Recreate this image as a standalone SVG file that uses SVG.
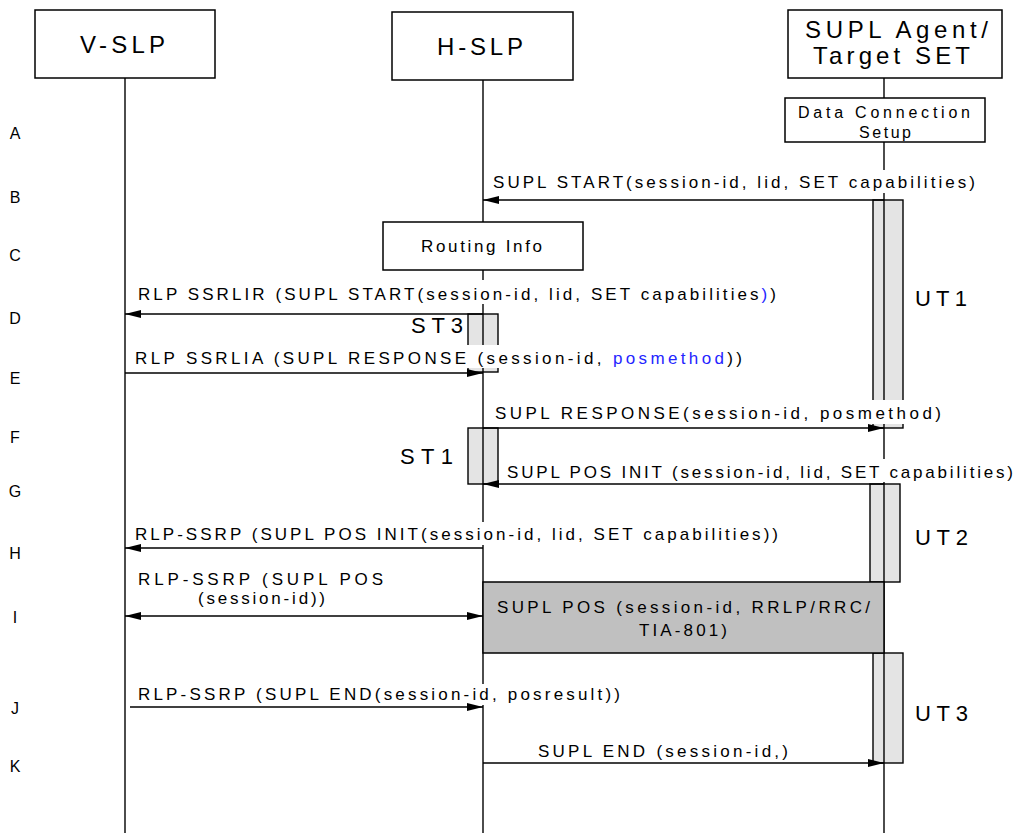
<svg xmlns="http://www.w3.org/2000/svg" width="1018" height="833" viewBox="0 0 1018 833">
<style>
text{font-family:"Liberation Sans",Arial,sans-serif;fill:#000}
.hd{font-size:24px}
.big{font-size:22px}
.msg{font-size:17px}
.sm{font-size:16px}
.row{font-size:16px;text-anchor:middle}
.blue{fill:#2525ff}
.box{fill:#fff;stroke:#000;stroke-width:1.5}
.tmr{fill:#e4e4e4;stroke:#000;stroke-width:1.4}
.life{stroke:#000;stroke-width:1.4;fill:none}
.bg{fill:#fff}
.ln{stroke:#000;stroke-width:1.4;fill:none}
.arr{marker-end:url(#ah)}
.dbl{marker-start:url(#ah);marker-end:url(#ah)}
</style>
<defs>
<marker id="ah" markerUnits="userSpaceOnUse" viewBox="0 0 16 8" refX="16" refY="4" markerWidth="16" markerHeight="8" orient="auto-start-reverse">
<path d="M0,0 L16,4 L0,8 z" fill="#000"/>
</marker>
</defs>
<rect width="1018" height="833" fill="#fff"/>

<g id="row-labels">
<text class="row" x="15" y="139">A</text>
<text class="row" x="15" y="203">B</text>
<text class="row" x="15" y="261">C</text>
<text class="row" x="15" y="324">D</text>
<text class="row" x="15" y="384">E</text>
<text class="row" x="15" y="443">F</text>
<text class="row" x="15" y="497">G</text>
<text class="row" x="15" y="559">H</text>
<text class="row" x="15" y="623">I</text>
<text class="row" x="15" y="714">J</text>
<text class="row" x="15" y="772">K</text>
</g>

<g id="timer-st3"><rect class="tmr" x="468" y="314" width="30" height="58"/><text class="big" x="411" y="333" textLength="52" lengthAdjust="spacing">ST3</text></g>
<g id="timer-st1"><rect class="tmr" x="468" y="428" width="30" height="56"/><text class="big" x="400" y="464" textLength="53" lengthAdjust="spacing">ST1</text></g>
<g id="timer-ut1"><rect class="tmr" x="873" y="200" width="30" height="228"/><text class="big" x="915" y="306" textLength="52" lengthAdjust="spacing">UT1</text></g>
<g id="timer-ut2"><rect class="tmr" x="870" y="484" width="30" height="98"/><text class="big" x="915" y="545" textLength="53" lengthAdjust="spacing">UT2</text></g>
<g id="timer-ut3"><rect class="tmr" x="873" y="653" width="30" height="110"/><text class="big" x="915" y="721" textLength="53" lengthAdjust="spacing">UT3</text></g>

<g id="v-slp">
<line class="life" x1="125" y1="78" x2="125" y2="833"/>
<rect class="box" x="35" y="10" width="180" height="68"/>
<text class="hd" x="80" y="53" textLength="85" lengthAdjust="spacing">V-SLP</text>
</g>
<g id="h-slp">
<line class="life" x1="483" y1="80" x2="483" y2="833"/>
<rect class="box" x="392" y="12" width="181" height="68"/>
<text class="hd" x="437" y="55" textLength="86" lengthAdjust="spacing">H-SLP</text>
</g>
<g id="supl-agent">
<line class="life" x1="884" y1="78" x2="884" y2="833"/>
<rect class="box" x="788" y="10" width="214" height="68"/>
<text class="hd" x="805" y="38" textLength="183" lengthAdjust="spacing">SUPL Agent/</text>
<text class="hd" x="813" y="64" textLength="157" lengthAdjust="spacing">Target SET</text>
</g>

<g id="data-connection">
<rect class="box" x="785" y="98" width="200" height="44"/>
<text class="sm" x="798" y="118" textLength="172" lengthAdjust="spacing">Data Connection</text>
<text class="sm" x="859" y="138" textLength="52" lengthAdjust="spacing">Setup</text>
</g>
<g id="routing-info">
<rect class="box" x="383" y="222" width="200" height="48"/>
<text class="msg" x="421" y="252" textLength="121" lengthAdjust="spacing">Routing Info</text>
</g>
<g id="supl-pos">
<rect x="483" y="582" width="401" height="71" fill="#c0c0c0" stroke="#000" stroke-width="1.5"/>
<text class="msg" x="497" y="613" textLength="373" lengthAdjust="spacing">SUPL POS (session-id, RRLP/RRC/</text>
<text class="msg" x="639" y="636" textLength="88" lengthAdjust="spacing">TIA-801)</text>
</g>

<g id="connectors">
<rect class="bg" x="491" y="170" width="487" height="23"/>
<text class="msg" x="493" y="188" textLength="482" lengthAdjust="spacing">SUPL START(session-id, lid, SET capabilities)</text>
<line class="ln arr" x1="884" y1="200" x2="483" y2="200"/>

<rect class="bg" x="136" y="280" width="643" height="24"/>
<text class="msg" x="138" y="300" textLength="638" lengthAdjust="spacing">RLP SSRLIR (SUPL START(session-id, lid, SET capabilities<tspan class="blue">)</tspan>)</text>
<line class="ln arr" x1="483" y1="314" x2="125" y2="314"/>

<rect class="bg" x="133" y="345" width="612" height="23"/>
<text class="msg" x="135" y="364" textLength="607" lengthAdjust="spacing">RLP SSRLIA (SUPL RESPONSE (session-id, <tspan class="blue">posmethod</tspan>))</text>
<line class="ln arr" x1="125" y1="373" x2="483" y2="373"/>

<rect class="bg" x="493" y="400" width="450" height="24"/>
<text class="msg" x="495" y="419" textLength="446" lengthAdjust="spacing">SUPL RESPONSE(session-id, posmethod)</text>
<line class="ln arr" x1="483" y1="428" x2="884" y2="428"/>

<rect class="bg" x="505" y="459" width="510" height="23"/>
<text class="msg" x="507" y="478" textLength="506" lengthAdjust="spacing">SUPL POS INIT (session-id, lid, SET capabilities)</text>
<line class="ln arr" x1="884" y1="484" x2="483" y2="484"/>

<rect class="bg" x="133" y="522" width="647" height="23"/>
<text class="msg" x="135" y="540" textLength="643" lengthAdjust="spacing">RLP-SSRP (SUPL POS INIT(session-id, lid, SET capabilities))</text>
<line class="ln arr" x1="483" y1="548" x2="125" y2="548"/>

<text class="msg" x="138" y="585" textLength="245" lengthAdjust="spacing">RLP-SSRP (SUPL POS</text>
<text class="msg" x="198" y="604" textLength="127" lengthAdjust="spacing">(session-id))</text>
<line class="ln dbl" x1="125" y1="616" x2="483" y2="616"/>

<rect class="bg" x="136" y="684" width="487" height="21"/>
<text class="msg" x="138" y="700" textLength="482" lengthAdjust="spacing">RLP-SSRP (SUPL END(session-id, posresult))</text>
<line class="ln arr" x1="130" y1="707" x2="483" y2="707"/>

<rect class="bg" x="536" y="739" width="256" height="22"/>
<text class="msg" x="538" y="757" textLength="250" lengthAdjust="spacing">SUPL END (session-id,)</text>
<line class="ln arr" x1="483" y1="763" x2="884" y2="763"/>
</g>
</svg>
